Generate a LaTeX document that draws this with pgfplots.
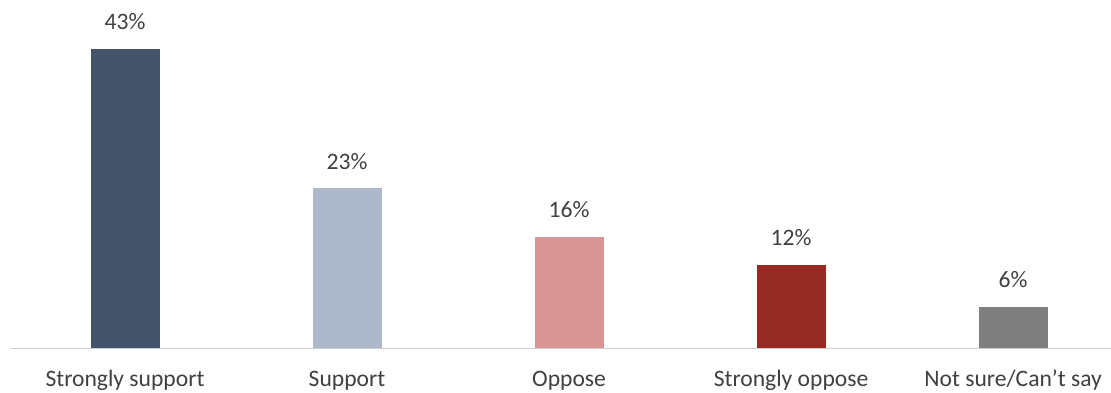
\documentclass[border=0pt]{standalone}
\usepackage{fontspec}
\setmainfont{Carlito}
\usepackage{pgfplots}
\pgfplotsset{compat=1.18}
\definecolor{c1}{HTML}{44546A}
\definecolor{c2}{HTML}{ADB9CA}
\definecolor{c3}{HTML}{D99594}
\definecolor{c4}{HTML}{952B23}
\definecolor{c5}{HTML}{7F7F7F}
\definecolor{txt}{HTML}{404040}
\definecolor{axl}{HTML}{D0D0D0}
\begin{document}
\begin{tikzpicture}
\begin{axis}[
  scale only axis,
  width=550pt, height=174.15pt,
  xmin=-0.5135, xmax=4.441,
  ymin=0, ymax=50,
  hide y axis,
  axis x line*=bottom,
  x axis line style={axl, line width=0.6pt, -},
  xtick={0,1,2,3,4},
  xticklabels={Strongly support, Support, Oppose, Strongly oppose, Not sure/Can’t say},
  major tick length=0pt,
  xticklabel style={anchor=base, yshift=-19pt, inner sep=0pt, font=\fontsize{11.8pt}{14pt}\selectfont, text=txt},
  bar width=34.5pt,
  clip=false,
  /pgf/number format/assume math mode=true,
  nodes near coords={\pgfmathprintnumber{\pgfplotspointmeta}\%},
  every node near coord/.append style={anchor=base, inner sep=0pt, yshift=9.5pt, font=\fontsize{11.8pt}{14pt}\selectfont, text=txt},
]
\addplot[ybar, fill=c1, draw=none] coordinates {(0,43)};
\addplot[ybar, fill=c2, draw=none] coordinates {(1,23)};
\addplot[ybar, fill=c3, draw=none] coordinates {(2,16)};
\addplot[ybar, fill=c4, draw=none] coordinates {(3,12)};
\addplot[ybar, fill=c5, draw=none] coordinates {(4,6)};
\coordinate (bl) at (rel axis cs:0,0);
\end{axis}
\pgfresetboundingbox
\path (bl) ++(-5.5pt,-21.85pt) rectangle ++(555.5pt,196pt);
\end{tikzpicture}
\end{document}
